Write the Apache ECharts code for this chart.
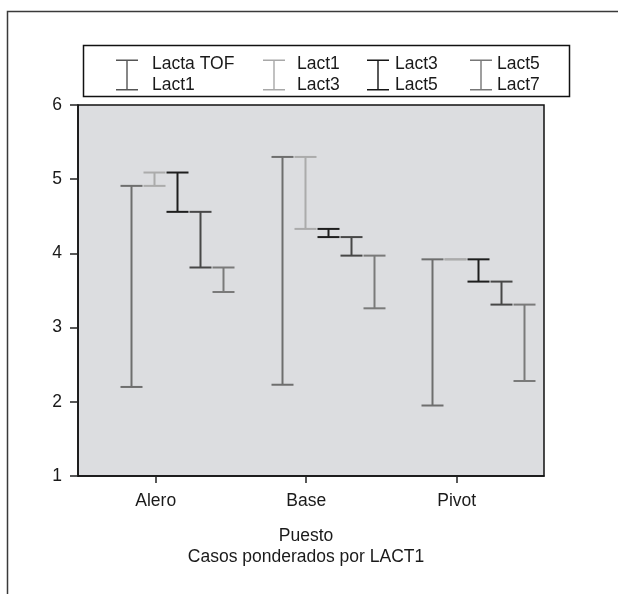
<!DOCTYPE html>
<html>
<head>
<meta charset="utf-8">
<script src="https://cdn.jsdelivr.net/npm/echarts@6/dist/echarts.min.js"></script>
<style>
html,body{margin:0;padding:0;background:#fff;}
#chart{width:618px;height:594px;}
</style>
</head>
<body>
<div id="chart"></div>
<script>
// ---- Data ----
const categories = ['Alero', 'Base', 'Pivot'];
const yTicks = [1, 2, 3, 4, 5, 6];
// each range: [low, high] per category
const rangeTofLact1 = [[2.20, 4.91], [2.23, 5.30], [1.95, 3.92]];
const rangeLact1Lact3 = [[4.91, 5.09], [4.33, 5.30], [3.92, 3.92]];
const rangeLact3Lact5 = [[4.56, 5.09], [4.22, 4.33], [3.62, 3.92]];
const rangeLact5Lact7 = [[3.81, 4.56], [3.97, 4.22], [3.31, 3.62]];
const rangeExtra = [[3.48, 3.81], [3.26, 3.97], [2.28, 3.31]];
const seriesNames = ['Lacta TOF\nLact1', 'Lact1\nLact3', 'Lact3\nLact5', 'Lact5\nLact7', 'extra'];
const xAxisTitle = 'Puesto\nCasos ponderados por LACT1';

// ---- Styles ----
const FONT = '"Liberation Sans", Arial, sans-serif';
const FS = 17.5;
const rangeColors = ['#6e6e6e', '#ababab', '#1e1e1e', '#474747', '#7a7a7a'];
const legendColors = ['#555555', '#a8a8a8', '#151515', '#777777'];
const legendLeft = [116, 263, 367, 470];
const legendTextPad = [9, 7, 1, 0];
const groupStep = 23, groupStart = -24.6, capHalf = 11;

const allRanges = [rangeTofLact1, rangeLact1Lact3, rangeLact3Lact5, rangeLact5Lact7, rangeExtra];

const chart = echarts.init(document.getElementById('chart'), null, {renderer: 'canvas'});

const series = allRanges.map((rng, si) => ({
  type: 'custom',
  name: seriesNames[si],
  itemStyle: {color: rangeColors[si]},
  encode: {x: 0, y: [1, 2]},
  data: rng.map((r, ci) => [ci + 1, r[0], r[1]]),
  renderItem: function (params, api) {
    const xv = api.value(0);
    const lo = api.coord([xv, api.value(1)]);
    const hi = api.coord([xv, api.value(2)]);
    const x = Math.round(lo[0] + groupStart + si * groupStep) + 0.5;
    const st = {stroke: rangeColors[si], lineWidth: 2};
    return {
      type: 'group',
      children: [
        {type: 'line', shape: {x1: x, y1: lo[1], x2: x, y2: hi[1]}, style: st},
        {type: 'line', shape: {x1: x - capHalf, y1: hi[1], x2: x + capHalf, y2: hi[1]}, style: st},
        {type: 'line', shape: {x1: x - capHalf, y1: lo[1], x2: x + capHalf, y2: lo[1]}, style: st}
      ]
    };
  }
}));

const iconPath = 'path://M0,0h22v1.4h-22z M10.3,0h1.4v31h-1.4z M0,29.6h22v1.4h-22z';

const legends = [0, 1, 2, 3].map(i => ({
  left: legendLeft[i],
  top: 54,
  orient: 'vertical',
  padding: 0,
  itemWidth: 22,
  itemHeight: 31,
  selectedMode: false,
  icon: iconPath,
  data: [{name: seriesNames[i], itemStyle: {color: legendColors[i]}}],
  textStyle: {fontFamily: FONT, fontSize: FS, lineHeight: 21, color: '#1a1a1a', padding: [0, 0, 0, legendTextPad[i]]}
}));

const xMin = 1 - 77.7 / 150.5;
const xMax = 3 + 87.3 / 150.5;

chart.setOption({
  animation: false,
  backgroundColor: '#ffffff',
  textStyle: {fontFamily: FONT},
  title: {
    text: xAxisTitle,
    left: 306,
    top: 526,
    textAlign: 'center',
    padding: 0,
    textStyle: {fontFamily: FONT, fontSize: FS, lineHeight: 21, fontWeight: 'normal', color: '#1a1a1a'}
  },
  graphic: [
    {type: 'polyline', shape: {points: [[7.5, 594], [7.5, 11.5], [618, 11.5]]}, style: {stroke: '#3a3a3a', lineWidth: 1.5, fill: null}, z: -1},
    {type: 'rect', shape: {x: 83.5, y: 45.5, width: 486, height: 51}, style: {stroke: '#111', lineWidth: 1.5, fill: '#fff'}, z: -1}
  ],
  legend: legends,
  grid: {
    left: 78, right: 74, top: 105, bottom: 118,
    show: true, backgroundColor: '#dcdde0', borderColor: '#111', borderWidth: 1.5
  },
  xAxis: {
    type: 'value',
    min: xMin,
    max: xMax,
    splitLine: {show: false},
    axisLine: {show: true, lineStyle: {color: '#111', width: 1.5}},
    axisTick: {show: true, length: 7, customValues: [1, 2, 3], lineStyle: {color: '#222', width: 1.5}},
    axisLabel: {
      customValues: [1, 2, 3],
      margin: 16,
      fontFamily: FONT, fontSize: FS, color: '#1a1a1a',
      formatter: v => categories[Math.round(v) - 1] || ''
    }
  },
  yAxis: {
    type: 'value',
    min: yTicks[0],
    max: yTicks[yTicks.length - 1],
    interval: 1,
    splitLine: {show: false},
    axisLine: {show: true, lineStyle: {color: '#111', width: 1.5}},
    axisTick: {show: true, length: 8, lineStyle: {color: '#222', width: 1.5}},
    axisLabel: {margin: 16, fontFamily: FONT, fontSize: FS, color: '#1a1a1a'}
  },
  series: series
});
</script>
</body>
</html>
